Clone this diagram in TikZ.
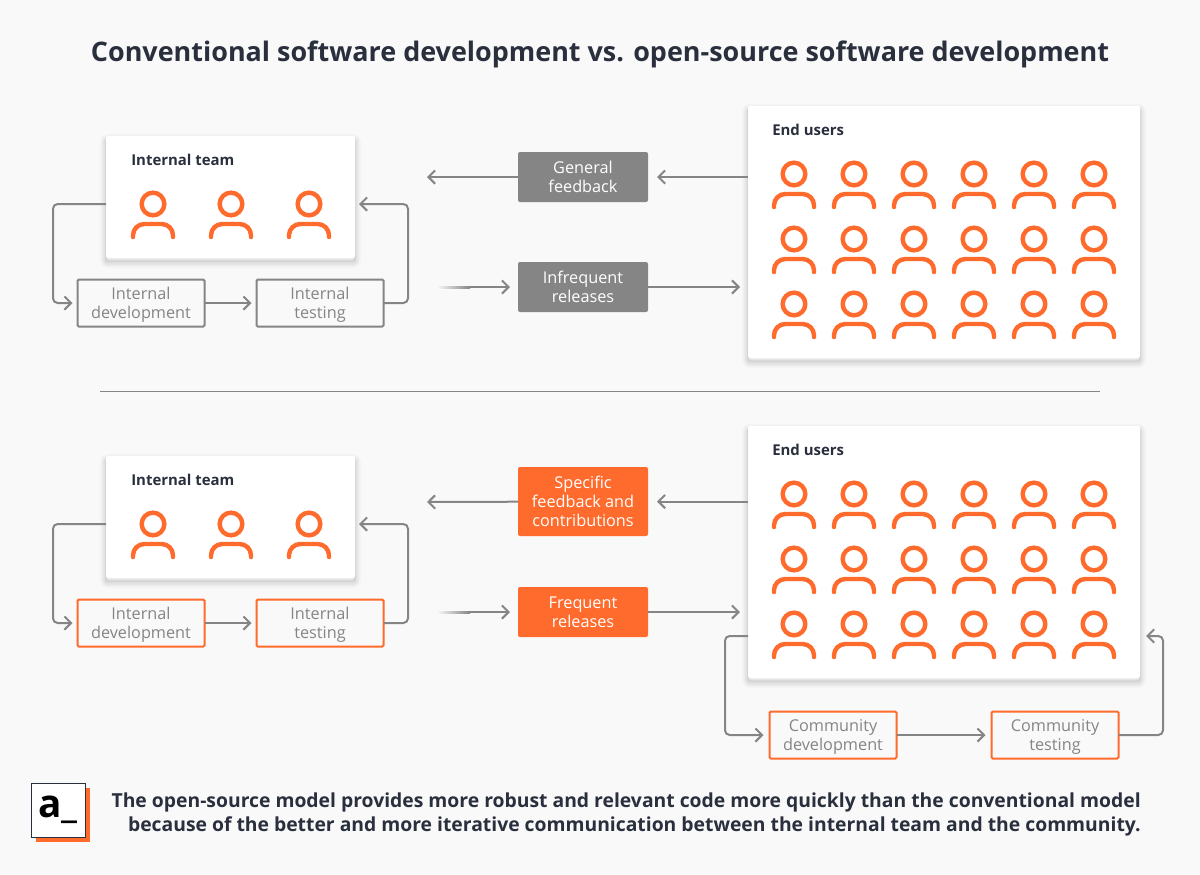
\documentclass[tikz,border=0pt]{standalone}
\usepackage{fontspec}
\setmainfont{Open Sans}
\usepackage{xcolor}
\usetikzlibrary{arrows.meta,positioning,shadows}

\definecolor{pagebg}{HTML}{F9F9F9}
\definecolor{accent}{HTML}{FF6B2C}
\definecolor{linegray}{HTML}{858585}
\definecolor{inkdark}{HTML}{2A2F3D}

\begin{document}
\begin{tikzpicture}[
        x=0.75pt, y=-0.75pt,
        label/.style={font=\fontsize{12.2}{14.25}\selectfont, align=center, inner sep=0pt, outer sep=0pt, text depth=0pt},
        softshade/.style={preaction={draw=black, draw opacity=#1, line width=9pt, transform canvas={yshift=-3pt}}},
        card/.style={rectangle, fill=white, rounded corners=1.5pt, outer sep=0pt, inner sep=0pt,
            softshade=.02,
            preaction={draw=black, draw opacity=.03, line width=6.5pt, transform canvas={yshift=-3pt}},
            preaction={draw=black, draw opacity=.04, line width=4pt, transform canvas={yshift=-3pt}},
            preaction={draw=black, draw opacity=.06, line width=1.5pt, transform canvas={yshift=-2.5pt}}},
        cardtitle/.style={font=\fontsize{11.2}{14}\selectfont\bfseries, text=inkdark, anchor=west, inner sep=0pt},
        graybox/.style={label, rectangle, fill=linegray, text=white, minimum width=97.5pt, minimum height=37.5pt, rounded corners=1.5pt},
        hotbox/.style={graybox, fill=accent},
        stepgray/.style={label, rectangle, draw=linegray, line width=1.5pt, text=linegray, minimum width=95.25pt, minimum height=35.25pt, rounded corners=1pt},
        stephot/.style={stepgray, draw=accent},
        arrow/.style={-{Straight Barb[length=5pt,width=10pt]}, draw=linegray, line width=1.5pt, rounded corners=3.5pt},
        person/.pic={
            \draw[accent, line width=3.3pt] (0,0) circle (8.5pt);
            \draw[accent, line width=3.3pt, line cap=round, rounded corners=8.5pt] (-20,33) -- (-20,20) -- (20,20) -- (20,33);
        }
    ]
        \useasboundingbox[fill=pagebg] (0,0) rectangle (1200,875);

        % Title
        \node[font=\fontsize{20.2}{24}\selectfont\bfseries, text=inkdark, inner sep=0pt] (title) at (600,54.5) {Conventional software development vs. open-source software development};

        % Upper half: cards
        \node[card, minimum width=186.75pt, minimum height=91.5pt] (teamA) at (230.5,197) {};
        \node[card, minimum width=294pt, minimum height=189pt] (usersA) at (944,232) {};
        \node[cardtitle] (teamAtitle) at (131,160) {Internal team};
        \node[cardtitle] (usersAtitle) at (772,130) {End users};

        % Upper half: boxes
        \node[stepgray] (idevA) at (141,303) {Internal\\development};
        \node[stepgray, right=39pt of idevA] (itestA) {Internal\\testing};
        \node[graybox] (feedA) at (583,177) {General\\feedback};
        \node[graybox] (relA) at (583,287) {Infrequent\\releases};

        % Lower half: cards
        \node[card, minimum width=186.75pt, minimum height=91.5pt] (teamB) at (230.5,517) {};
        \node[card, minimum width=294pt, minimum height=189pt] (usersB) at (944,552) {};
        \node[cardtitle] (teamBtitle) at (131,480) {Internal team};
        \node[cardtitle] (usersBtitle) at (772,450) {End users};

        % Lower half: boxes
        \node[stephot] (idevB) at (141,623) {Internal\\development};
        \node[stephot, right=39pt of idevB] (itestB) {Internal\\testing};
        \node[hotbox, minimum height=51.75pt] (feedB) at (583,501.5) {Specific\\feedback and\\contributions};
        \node[hotbox] (relB) at (583,612) {Frequent\\releases};
        \node[stephot] (cdev) at (833,735) {Community\\development};
        \node[stephot, right=71.25pt of cdev] (ctest) {Community\\testing};

        % People
        \foreach \py in {204,524}
            \foreach \px in {153,231,309}
                \pic at (\px,\py) {person};
        \foreach \py in {174,239,304,494,559,624}
            \foreach \px in {794,854,914,974,1034,1094}
                \pic at (\px,\py) {person};

        % Free ends
        \coordinate (outA) at (427,177);
        \coordinate (inA) at (470,287);
        \coordinate (outB) at (427,502);
        \coordinate (inB) at (470,612);

        % Connections
        \draw[arrow, shorten >=6.75pt] (usersA.west |- feedA) -- (feedA.east);
        \draw[arrow] (feedA) -- (outA);
        \draw[arrow, shorten >=6pt] (inA) -- (relA.west);
        \draw[arrow, shorten >=6pt] (relA) -- (usersA.west |- relA);
        \draw[arrow, shorten >=3.75pt] (teamA.west |- 0,204) -- (53,204) -- (53,303) -- (idevA.west);
        \draw[arrow, shorten >=3.75pt] (idevA.east) -- (itestA.west);
        \draw[arrow, shorten >=3pt] (itestA.east) -- (408,303) -- (408,204) -- (teamA.east |- 0,204);

        \draw[arrow, shorten >=6.75pt] (usersB.west |- feedB) -- (feedB.east);
        \draw[arrow] (feedB) -- (outB);
        \draw[arrow, shorten >=6pt] (inB) -- (relB.west);
        \draw[arrow, shorten >=6pt] (relB) -- (usersB.west |- relB);
        \draw[arrow, shorten >=3.75pt] (teamB.west |- 0,524) -- (53,524) -- (53,623) -- (idevB.west);
        \draw[arrow, shorten >=3.75pt] (idevB.east) -- (itestB.west);
        \draw[arrow, shorten >=3pt] (itestB.east) -- (408,623) -- (408,524) -- (teamB.east |- 0,524);

        \draw[arrow, shorten >=4.5pt] (usersB.west |- 0,636) -- (725,636) -- (725,735) -- (cdev.west);
        \draw[arrow, shorten >=4.5pt] (cdev.east) -- (ctest.west);
        \draw[arrow, shorten >=4.5pt] (ctest.east) -- (1163,735) -- (1163,636) -- (usersB.east |- 0,636);

        % Fading starts
        \shade[left color=pagebg, right color=linegray] (437,286) rectangle (470,288);
        \shade[left color=pagebg, right color=linegray] (437,611) rectangle (470,613);

        % Divider
        \coordinate (divL) at (100,391);
        \coordinate (divR) at (1100,391);
        \draw[linegray, line width=0.75pt] (divL) -- (divR);

        % Footer
        \node[rectangle, draw=inkdark, line width=0.75pt, fill=white, minimum size=40.5pt, inner sep=0pt,
            general shadow={fill=accent, shadow xshift=3.75pt, shadow yshift=-3.75pt},
            font=\fontsize{29}{30}\selectfont\bfseries, text=black] (logo) at (58,810) {a\_};
        \node[font=\fontsize{14.5}{18}\selectfont\bfseries, text=inkdark, align=right, anchor=east, inner sep=0pt] (note) at (1141,814.5)
            {The open-source model provides more robust and relevant code more quickly than the conventional model\\
             because of the better and more iterative communication between the internal team and the community.};
\end{tikzpicture}
\end{document}
